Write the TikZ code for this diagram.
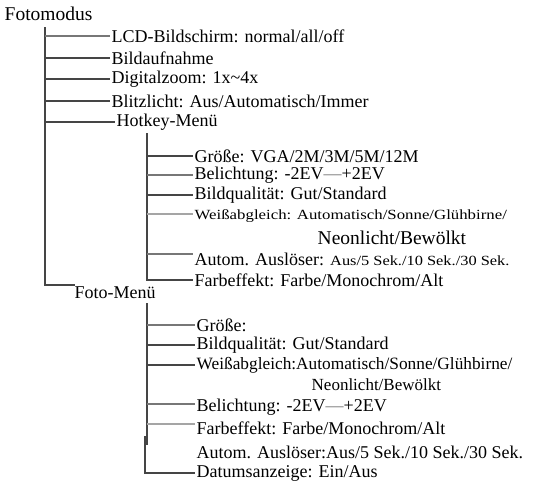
\documentclass[tikz,border=0pt]{standalone}
\usepackage{fontspec}
\setmainfont{Liberation Serif}
\usepackage{graphicx}
\definecolor{cdark}{HTML}{454545}
\definecolor{cmid}{HTML}{777777}
\definecolor{clight}{HTML}{A5A5A5}
\newcommand{\fsmain}{\fontsize{18}{20}\selectfont}
\newcommand{\fssmall}{\fontsize{14}{16}\selectfont}
\newcommand{\fsneon}{\fontsize{19.5}{22}\selectfont}
\newcommand{\evdash}{{\color{cmid}—}}
\tikzset{
  lbl/.style={anchor=west, inner xsep=1.5pt, inner ysep=0pt, font=\fsmain},
  conn/.style={draw=cdark, line width=1.5pt},
  connm/.style={draw=cmid, line width=1.5pt},
  connl/.style={draw=clight, line width=1.5pt}
}
\begin{document}
\begin{tikzpicture}[x=1pt,y=-1pt]
\useasboundingbox (0,0) rectangle (539,482);
% root
\node[lbl, font=\fontsize{19.5}{22}\selectfont] (root) at (3,14) {Fotomodus};
\node[lbl] (lcd) at (110,36) {LCD-Bildschirm: normal/all/off};
\node[lbl] (bild) at (110,58) {Bildaufnahme};
\node[lbl] (dig) at (110,79) {Digitalzoom: 1x\textasciitilde4x};
\node[lbl] (blitz) at (110,101) {Blitzlicht: Aus/Automatisch/Immer};
\node[lbl] (hot) at (115,122) {Hotkey-Menü};
% hotkey submenu
\node[lbl] (h1) at (193,156) {Größe: VGA/2M/3M/5M/12M};
\node[lbl] (h2) at (193,175) {Belichtung: -2EV\evdash+2EV};
\node[lbl] (h3) at (193,195) {Bildqualität: Gut/Standard};
\node[lbl] (h4) at (193,216) {\fssmall\scalebox{1.2}[1]{Weißabgleich: Automatisch/Sonne/Glühbirne/}};
\node[lbl, font=\fsneon] (h5) at (316,238) {Neonlicht/Bewölkt};
\node[lbl] (h6) at (193,259) {Autom. Auslöser: {\fssmall\scalebox{1.17}[1]{Aus/5 Sek./10 Sek./30 Sek.}}};
\node[lbl] (h7) at (193,280) {Farbeffekt: Farbe/Monochrom/Alt};
% foto menu
\node[lbl] (foto) at (73,293) {Foto-Menü};
\node[lbl] (f1) at (195,325) {Größe:};
\node[lbl] (f2) at (195,345) {Bildqualität: Gut/Standard};
\node[lbl, font=\fontsize{17.3}{20}\selectfont] (f3) at (195,365) {Weißabgleich:Automatisch/Sonne/Glühbirne/};
\node[lbl, font=\fontsize{17}{20}\selectfont] (f4) at (310,385) {Neonlicht/Bewölkt};
\node[lbl] (f5) at (195,407) {Belichtung: -2EV\evdash+2EV};
\node[lbl] (f6) at (195,428) {Farbeffekt: Farbe/Monochrom/Alt};
\node[lbl] (f7) at (195,452) {Autom. Auslöser:Aus/5 Sek./10 Sek./30 Sek.};
\node[lbl] (f8) at (195,473) {Datumsanzeige: Ein/Aus};
% level 1 connectors
\coordinate (m) at (45,27);
\coordinate (fc) at (75,285);
\draw[conn] (m) |- (fc);
\draw[connm] (m |- lcd.west) -- (lcd.west);
\draw[conn] (m |- bild.west) -- (bild.west);
\draw[conn] (m |- dig.west) -- (dig.west);
\draw[conn] (m |- blitz.west) -- (blitz.west);
\draw[conn] (m |- hot.west) -- (hot.west);
% hotkey connectors
\coordinate (hv) at (147,133);
\draw[conn] (hv) |- (h7.west);
\draw[conn] (hv |- h1.west) -- (h1.west);
\draw[connm] (hv |- h2.west) -- (h2.west);
\draw[conn] (hv |- h3.west) -- (h3.west);
\coordinate (h4l) at (147,214);
\draw[connl] (h4l) -- (h4.west |- h4l);
\coordinate (h6l) at (147,254);
\draw[connm] (h6l) -- (h6.west |- h6l);
% foto connectors
\coordinate (fv) at (147,303);
\coordinate (fvb) at (147,445);
\draw[conn] (fv) -- (fvb);
\draw[connm] (fv |- f1.west) -- (f1.west);
\draw[conn] (fv |- f2.west) -- (f2.west);
\draw[conn] (fv |- f3.west) -- (f3.west);
\coordinate (f5l) at (147,404);
\draw[connm] (f5l) -- (f5.west |- f5l);
\coordinate (f6l) at (147,424);
\draw[connl] (f6l) -- (f6.west |- f6l);
\coordinate (fv2) at (145,436);
\draw[conn] (fv2) |- (f8.west);
\end{tikzpicture}
\end{document}
